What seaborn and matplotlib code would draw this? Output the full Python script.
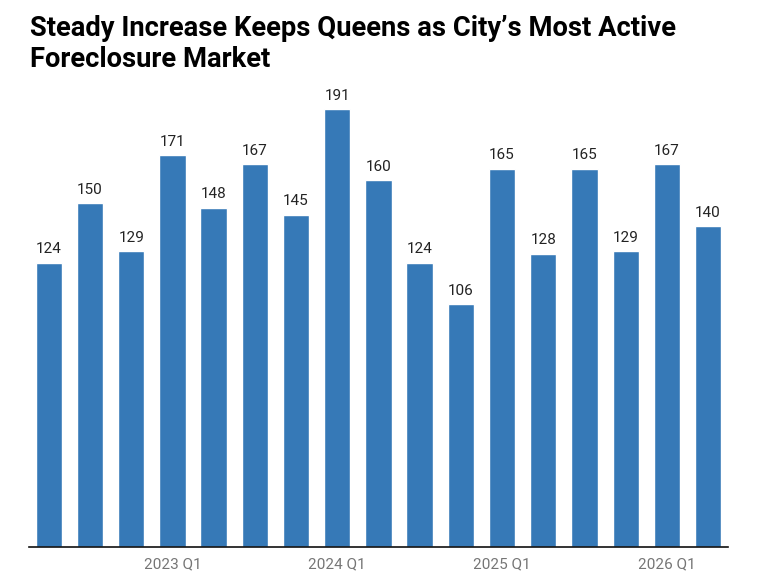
import os
import numpy as np
import pandas as pd
import matplotlib
matplotlib.use('Agg')
import matplotlib.pyplot as plt
from matplotlib import font_manager as fm
import seaborn as sns

# quarterly foreclosure counts, Queens
quarters = ['2022 Q2', '2022 Q3', '2022 Q4',
            '2023 Q1', '2023 Q2', '2023 Q3', '2023 Q4',
            '2024 Q1', '2024 Q2', '2024 Q3', '2024 Q4',
            '2025 Q1', '2025 Q2', '2025 Q3', '2025 Q4',
            '2026 Q1', '2026 Q2']
counts = [124, 150, 129, 171, 148, 167, 145, 191, 160, 124, 106,
          165, 128, 165, 129, 167, 140]
shown_ticks = ['2023 Q1', '2024 Q1', '2025 Q1', '2026 Q1']

title = 'Steady Increase Keeps Queens as City\u2019s Most Active\nForeclosure Market'

sns.set_style('white')
plt.rcParams['font.family'] = ['Roboto', 'DejaVu Sans']

# the variable Roboto file renders narrow, so point at the static ones
robo_dir = '/usr/share/fonts/truetype/roboto/unhinted/RobotoTTF/'
if os.path.exists(robo_dir + 'Roboto-Regular.ttf'):
    reg = fm.FontProperties(fname=robo_dir + 'Roboto-Regular.ttf')
else:
    reg = fm.FontProperties(family='Roboto')
if os.path.exists(robo_dir + 'Roboto-Bold.ttf'):
    bold = fm.FontProperties(fname=robo_dir + 'Roboto-Bold.ttf')
else:
    bold = fm.FontProperties(family='Roboto', weight='bold')

df = pd.DataFrame({'quarter': quarters, 'count': counts})

fig = plt.figure(figsize=(7.8, 5.83), dpi=100)
ax = fig.add_axes([0.0372, 0.0617, 0.896, 0.7866])

sns.barplot(data=df, x='quarter', y='count', order=quarters,
            color='#3679b7', saturation=1, width=0.64, ax=ax)

for c in ax.containers:
    labs = ax.bar_label(c, padding=4.5, color='#222222')
    for t in labs:
        t.set_fontproperties(reg)
        t.set_fontsize(11)

ax.set_xlim(-0.48, len(quarters) - 0.52)
ax.set_ylim(0, 200)

ticks = [quarters.index(q) for q in shown_ticks]
ax.set_xticks(ticks)
ax.set_xticklabels(shown_ticks, color='#757575')
for t in ax.get_xticklabels():
    t.set_fontproperties(reg)
    t.set_fontsize(11)
ax.tick_params(axis='x', length=0, pad=7.5)
ax.set_yticks([])
ax.set_xlabel('')
ax.set_ylabel('')

for s in ['top', 'right', 'left']:
    ax.spines[s].set_visible(False)
ax.spines['bottom'].set_color('#111111')
ax.spines['bottom'].set_linewidth(1.2)

tt = fig.text(0.0385, 0.975, title, color='#000000', ha='left', va='top',
              linespacing=1.2, fontproperties=bold)
tt.set_fontsize(19.7)

fig.savefig('out.png', dpi=100)
